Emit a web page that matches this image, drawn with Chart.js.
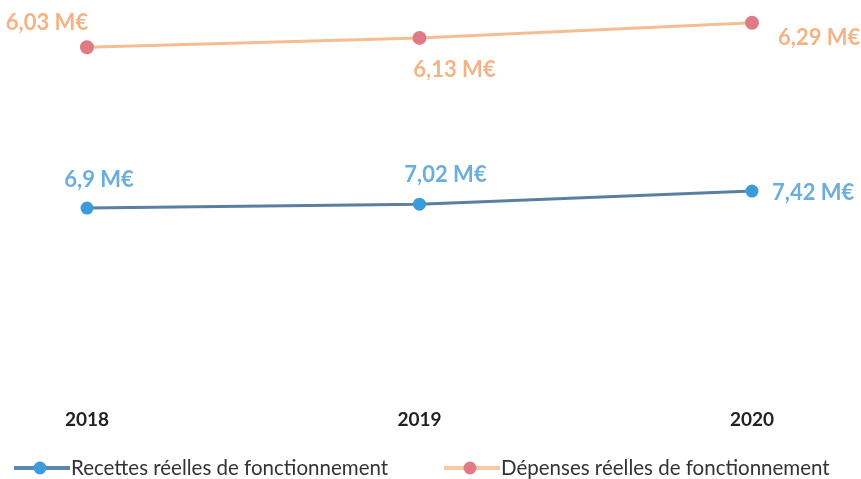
<!DOCTYPE html>
<html>
<head>
<meta charset="utf-8">
<script src="https://cdn.jsdelivr.net/npm/chart.js@4.4.0/dist/chart.umd.min.js"></script>
<style>
  html, body { margin: 0; padding: 0; background: #fff; }
  #wrap { width: 861px; height: 479px; }
</style>
</head>
<body>
<div id="wrap"><canvas id="chart-main" width="861" height="479"></canvas></div>
<script>
/* global Chart */

const years = ["2018", "2019", "2020"];
const recettes = [6.9, 7.02, 7.42];
const depenses = [6.03, 6.13, 6.29];
const recettesLabels = ["6,9 M€", "7,02 M€", "7,42 M€"];
const depensesLabels = ["6,03 M€", "6,13 M€", "6,29 M€"];

// label placement relative to each point: [dx, dy, align]
const recettesOffsets = [[12, -28, "center"], [26, -29, "center"], [20, 2, "left"]];
const depensesOffsets = [[-40, -24, "center"], [35, 32, "center"], [26, 15, "left"]];
// legend entry left edges
const legendX = [14, 444];

const FONT = "Lato, 'Open Sans', sans-serif";

const valueLabels = {
  id: "valueLabels",
  afterDatasetsDraw(chart) {
    const ctx = chart.ctx;
    ctx.save();
    ctx.font = `bold 22px ${FONT}`;
    ctx.textBaseline = "middle";
    chart.data.datasets.forEach((ds, i) => {
      const meta = chart.getDatasetMeta(i);
      meta.data.forEach((pt, j) => {
        const [dx, dy, align] = ds.labelOffsets[j];
        ctx.fillStyle = ds.labelColor;
        ctx.textAlign = align;
        ctx.fillText(ds.valueLabels[j], pt.x + dx, pt.y + dy);
      });
    });
    ctx.restore();
  },
};

// legend: line with a dot in the middle, then the series name
const lineLegend = {
  id: "lineLegend",
  afterDraw(chart) {
    const ctx = chart.ctx;
    const y = chart.height - 11;
    ctx.save();
    chart.data.datasets.forEach((ds, i) => {
      const x = legendX[i];
      ctx.strokeStyle = ds.legendLine;
      ctx.lineWidth = 4;
      ctx.beginPath();
      ctx.moveTo(x, y);
      ctx.lineTo(x + 56, y);
      ctx.stroke();
      ctx.fillStyle = ds.pointBackgroundColor;
      ctx.beginPath();
      ctx.arc(x + 26, y, 6.5, 0, Math.PI * 2);
      ctx.fill();
      ctx.fillStyle = "#333";
      ctx.font = `20.5px ${FONT}`;
      ctx.textAlign = "left";
      ctx.textBaseline = "middle";
      ctx.fillText(ds.label, x + 57, y);
    });
    ctx.restore();
  },
};

const ctx = document.getElementById("chart-main").getContext("2d");
new Chart(ctx, {
  type: "line",
  data: {
    labels: years,
    datasets: [
      {
        label: "Recettes réelles de fonctionnement",
        data: recettes,
        yAxisID: "yR",
        borderColor: "#5B7FA3",
        borderWidth: 3,
        pointBackgroundColor: "#3C9BDA",
        pointBorderColor: "#3C9BDA",
        pointRadius: 5,
        clip: false,
        valueLabels: recettesLabels,
        labelOffsets: recettesOffsets,
        labelColor: "#6AAEE0",
        legendLine: "#5B86B0",
      },
      {
        label: "Dépenses réelles de fonctionnement",
        data: depenses,
        yAxisID: "yD",
        borderColor: "#F6BD92",
        borderWidth: 3,
        pointBackgroundColor: "#E07A85",
        pointBorderColor: "#E07A85",
        pointRadius: 5.5,
        clip: false,
        valueLabels: depensesLabels,
        labelOffsets: depensesOffsets,
        labelColor: "#F5B285",
        legendLine: "#F8C9A4",
      },
    ],
  },
  options: {
    responsive: false,
    animation: false,
    layout: { padding: { left: 87, right: 109, top: 10, bottom: 40 } },
    scales: {
      x: {
        offset: false,
        grid: { display: false },
        border: { display: false },
        ticks: {
          color: "#222",
          font: { family: FONT, size: 19, weight: "bold" },
          padding: 8,
        },
      },
      yR: { display: false, min: 1.254, max: 12.972 },
      yD: { display: false, min: 2.371, max: 6.426 },
    },
    plugins: {
      tooltip: { enabled: false },
      legend: { display: false },
    },
  },
  plugins: [valueLabels, lineLegend],
});
</script>
</body>
</html>
